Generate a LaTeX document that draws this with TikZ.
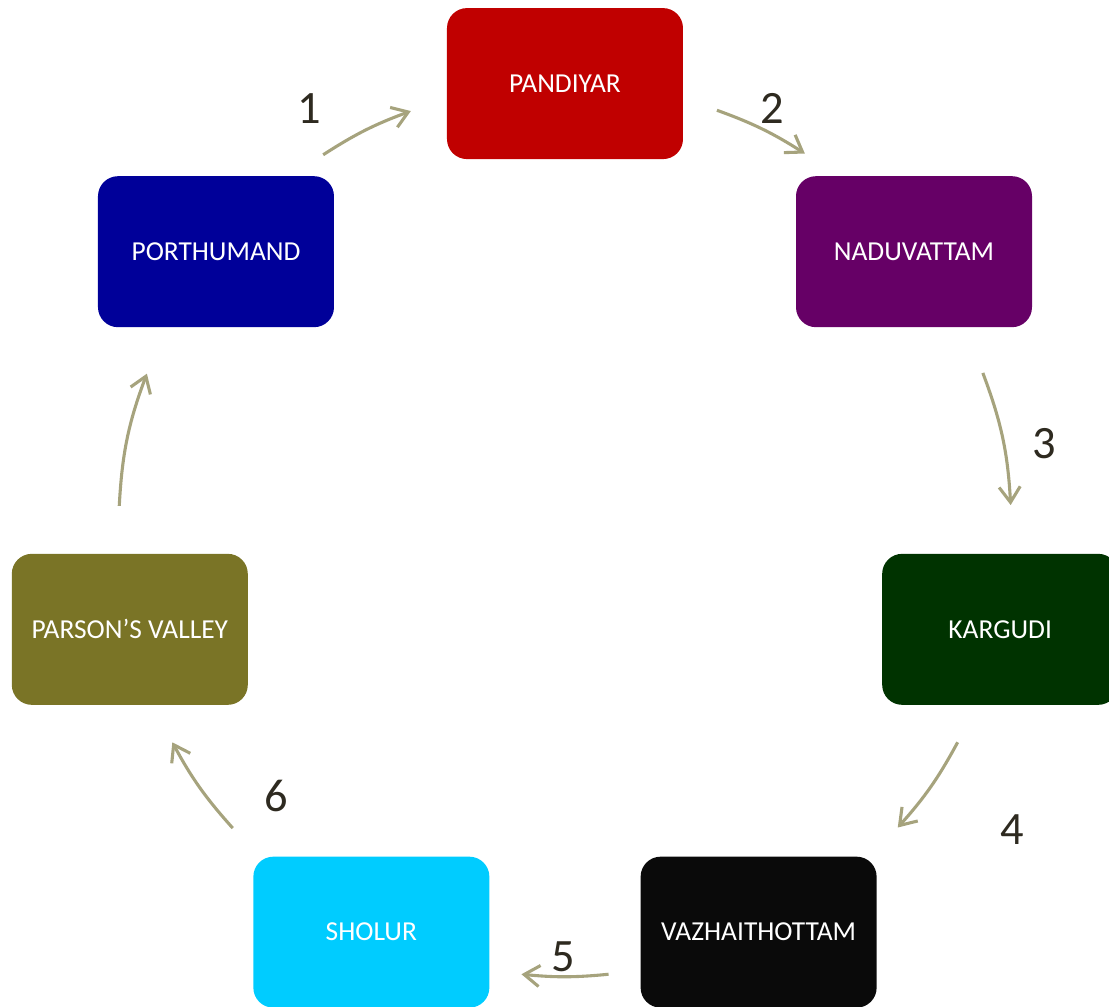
\documentclass[tikz,border=0pt]{standalone}
\usepackage{fontspec}
\setmainfont{Carlito}
\usetikzlibrary{arrows.meta}

\definecolor{pandcol}{RGB}{192,0,0}
\definecolor{naducol}{RGB}{102,0,102}
\definecolor{kargcol}{RGB}{0,51,0}
\definecolor{vazhcol}{RGB}{10,10,10}
\definecolor{sholcol}{RGB}{0,204,255}
\definecolor{parscol}{RGB}{122,116,38}
\definecolor{portcol}{RGB}{0,0,153}
\definecolor{flowcol}{RGB}{166,163,125}
\definecolor{numcol}{RGB}{46,42,32}

\begin{document}
\begin{tikzpicture}[
		place/.style={rounded corners=0.5cm, minimum width=5.9cm, minimum height=3.775cm,
				inner sep=0pt, text=white, font=\fontsize{19.5}{23}\selectfont},
		flow/.style={draw=flowcol, line width=2.2pt, -{Straight Barb[length=11pt,width=15pt]}},
		num/.style={inner sep=0pt, text=numcol, font=\fontsize{33}{37}\selectfont}
	]
	\def\R{11.16}
	\clip (-14.125,-11.925) rectangle (13.6,13.25);
	\useasboundingbox (-14.125,-11.925) rectangle (13.6,13.25);

	% places on the circle
	\node[place, fill=pandcol] (pandiyar) at (90:\R) {PANDIYAR};
	\node[place, fill=naducol] (naduvattam) at (38.57:\R) {NADUVATTAM};
	\node[place, fill=kargcol] (kargudi) at (-12.86:\R) {KARGUDI};
	\node[place, fill=vazhcol] (vazhai) at (-64.29:\R) {VAZHAITHOTTAM};
	\node[place, fill=sholcol] (sholur) at (-115.71:\R) {SHOLUR};
	\node[place, fill=parscol] (parsons) at (-167.14:\R) {PARSON’S VALLEY};
	\node[place, fill=portcol] (porthumand) at (141.43:\R) {PORTHUMAND};

	% curved arrows between the places
	\foreach \i/\st/\en in {1/122.8/110.2, 2/70.1/57.5, 3/20.6/3.2, 4/-28.4/-41.8,
			5/-84.4/-95.6, 6/221.9/208.4, 7/176.9/159.5} {
			\coordinate (s\i) at (\st:\R);
			\coordinate (e\i) at (\en:\R);
			\pgfmathsetmacro{\bendang}{(\st-\en)/2}
			\draw[flow] (s\i) to[bend left=\bendang] (e\i);
		}

	% step numbers
	\node[num] (n1) at (-6.4,10.525) {1};
	\node[num] (n2) at (5.175,10.55) {2};
	\node[num] (n3) at (11.975,2.15) {3};
	\node[num] (n4) at (11.175,-7.5) {4};
	\node[num] (n5) at (-0.05,-10.675) {5};
	\node[num] (n6) at (-7.2125,-6.6625) {6};
\end{tikzpicture}
\end{document}
